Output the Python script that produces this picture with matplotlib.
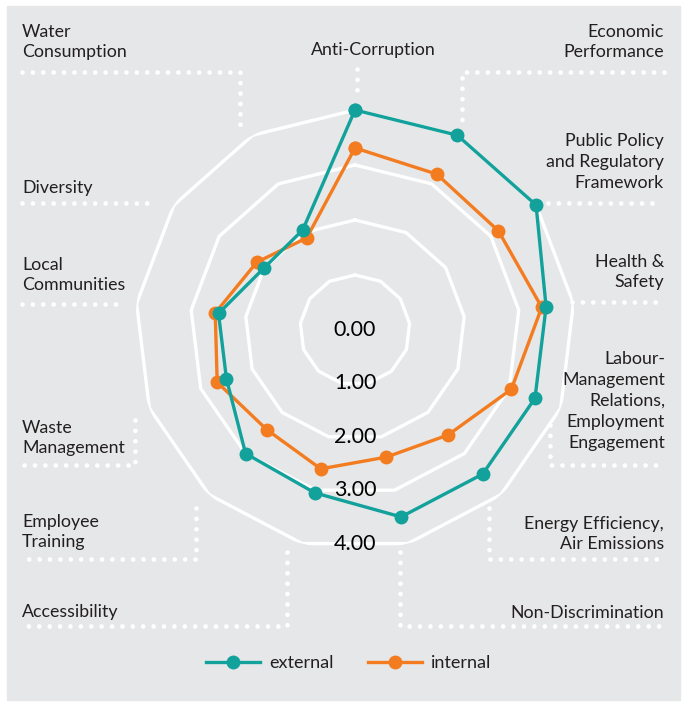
import numpy as np
import matplotlib
matplotlib.use('Agg')
import matplotlib.pyplot as plt
from matplotlib.patches import Rectangle

plt.rcParams['font.family'] = ['Lato', 'DejaVu Sans']

# data (clockwise from the top)
categories = ['Anti-Corruption', 'Economic\nPerformance',
              'Public Policy\nand Regulatory\nFramework', 'Health &\nSafety',
              'Labour-\nManagement\nRelations,\nEmployment\nEngagement',
              'Energy Efficiency,\nAir Emissions', 'Non-Discrimination',
              'Accessibility', 'Employee\nTraining', 'Waste\nManagement',
              'Local\nCommunities', 'Diversity', 'Water\nConsumption']
external = [4.0, 4.0, 4.0, 3.5, 3.5, 3.5, 3.5, 3.05, 3.0, 2.5, 2.5, 2.0, 2.05]
internal = [3.31, 3.2, 3.17, 3.42, 3.04, 2.55, 2.38, 2.6, 2.42, 2.68, 2.56, 2.17, 1.89]
ring_ticks = [0, 1, 2, 3, 4]

TEAL = '#12a19b'
ORANGE = '#f47c20'
TXT = '#231f20'
BG = '#e6e7e8'

W, H = 683, 702
fig = plt.figure(figsize=(W / 100, H / 100), dpi=100)
fig.patch.set_facecolor('white')

# pixel-space background axes for panel, labels and dotted leaders
bg = fig.add_axes([0, 0, 1, 1])
bg.set_xlim(0, W)
bg.set_ylim(H, 0)
bg.axis('off')
bg.add_patch(Rectangle((7, 6), 673, 694, color=BG, zorder=0))

# label anchor (x, y, ha) and leader path, same order as categories
label_pos = [(373, 50, 'center'), (664, 42, 'right'), (664, 162, 'right'),
             (664, 272, 'right'), (665, 401, 'right'), (664, 534, 'right'),
             (664, 613, 'right'), (22, 612, 'left'), (22, 532, 'left'),
             (22, 438, 'left'), (22, 275, 'left'), (22, 188, 'left'),
             (22, 42, 'left')]
leaders = [[(357, 69), (357, 99)],
           [(664, 72), (462, 72), (462, 123)],
           [(548, 203), (662, 203)],
           [(572, 302), (662, 302)],
           [(550, 425), (550, 465), (662, 465)],
           [(489, 508), (489, 559), (662, 559)],
           [(400, 552), (400, 626), (662, 626)],
           [(287, 552), (287, 626), (22, 626)],
           [(196, 508), (196, 559), (22, 559)],
           [(135, 420), (135, 465), (22, 465)],
           [(22, 304), (120, 304)],
           [(22, 203), (155, 203)],
           [(22, 72), (240, 72), (240, 128)]]

for name, (x, y, ha), path in zip(categories, label_pos, leaders):
    # figure-level text so it sits above the radar axes
    fig.text(x, y, name, ha=ha, va='center', ma=ha, fontsize=12.8,
             color=TXT, linespacing=1.38, transform=bg.transData)
    px, py = zip(*path)
    bg.plot(px, py, color='white', lw=3.4, ls=(0, (0.001, 2.2)),
            dash_capstyle='round', solid_capstyle='round')

# radar axes
cx, cy, R = 355, 330, 220
ax = fig.add_axes([(cx - R) / W, 1 - (cy + R) / H, 2 * R / W, 2 * R / H],
                  projection='polar')
ax.set_facecolor('none')
ax.set_theta_zero_location('N')
ax.set_theta_direction(-1)
ax.set_ylim(0, 4)
ax.grid(False)
ax.spines['polar'].set_visible(False)
ax.set_xticks([])
ax.set_yticks([])

n = len(categories)
ang = np.arange(n) * 2 * np.pi / n
ang_c = np.append(ang, ang[0])

for k in ring_ticks[1:]:
    ax.plot(ang_c, [k] * (n + 1), color='white', lw=2.4, zorder=1)

li, = ax.plot(ang_c, internal + internal[:1], color=ORANGE, lw=2.4,
              marker='o', ms=9, zorder=3, clip_on=False, label='internal')
le, = ax.plot(ang_c, external + external[:1], color=TEAL, lw=2.4,
              marker='o', ms=9, zorder=4, clip_on=False, label='external')

for k in ring_ticks:
    ax.text(np.pi, k * np.cos(np.pi / n), f'{k:.2f}', ha='center',
            va='center', fontsize=15.5, color='black', zorder=5)

fig.legend(handles=[le, li], loc='center', ncol=2, frameon=False,
           bbox_to_anchor=(349 / W, 1 - 663 / H), fontsize=13,
           handlelength=3.0, handletextpad=0.5, columnspacing=1.9,
           labelcolor=TXT)

fig.savefig('out.png', dpi=100)
